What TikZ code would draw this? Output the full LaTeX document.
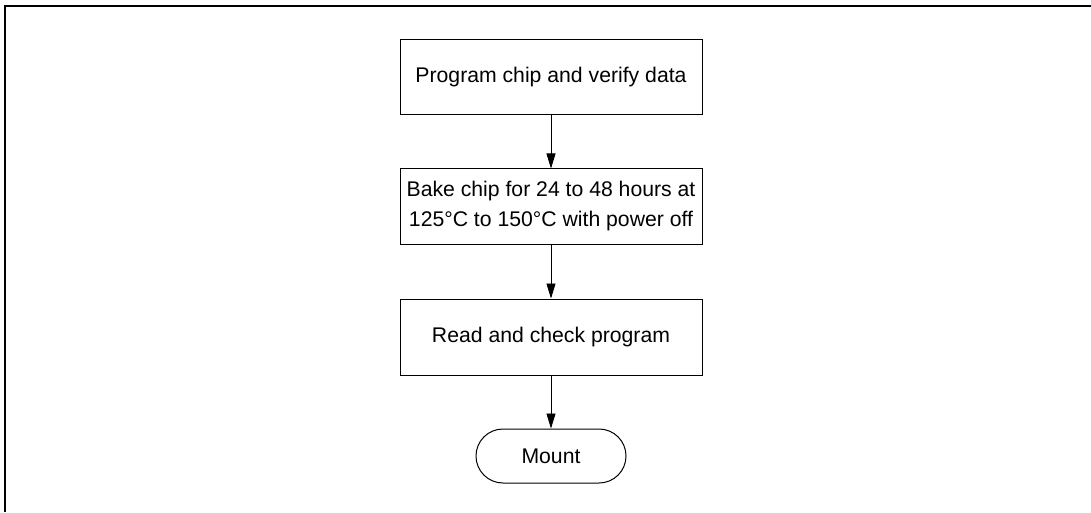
\documentclass[tikz,border=0pt]{standalone}
\usepackage{fontspec}
\setmainfont{Liberation Sans}
\usetikzlibrary{arrows.meta,positioning}

\begin{document}
\begin{tikzpicture}[x=1pt, y=1pt, >={Triangle[length=15pt,width=9pt]},
  stepbox/.style={draw, line width=1pt, minimum width=302pt, minimum height=75pt,
    align=center, font=\fontsize{21.2}{30}\selectfont, inner sep=0pt},
  endbox/.style={draw, line width=1pt, minimum width=150pt, minimum height=54pt,
    rounded corners=27pt, font=\fontsize{21.2}{30}\selectfont, inner sep=0pt}]
  \useasboundingbox (0,0) rectangle (1091,512);

  % outer frame
  \draw[line width=1.5pt] (5,0) -- (5,506) -- (1091,506);

  % flow steps
  \node[stepbox] (program) at (551,434.5) {Program chip and verify data};
  \node[stepbox] (bake) at (551,305.5) {Bake chip for 24 to 48 hours at\\125\textdegree C to 150\textdegree C with power off};
  \node[stepbox, minimum height=76pt] (read) at (551,175) {Read and check program};
  \node[endbox] (mount) at (551,56) {Mount};

  % connectors
  \draw[->, line width=0.8pt] (program) -- (bake);
  \draw[->, line width=0.8pt] (bake) -- (read);
  \draw[->, line width=0.8pt] (read) -- (mount);
\end{tikzpicture}
\end{document}
